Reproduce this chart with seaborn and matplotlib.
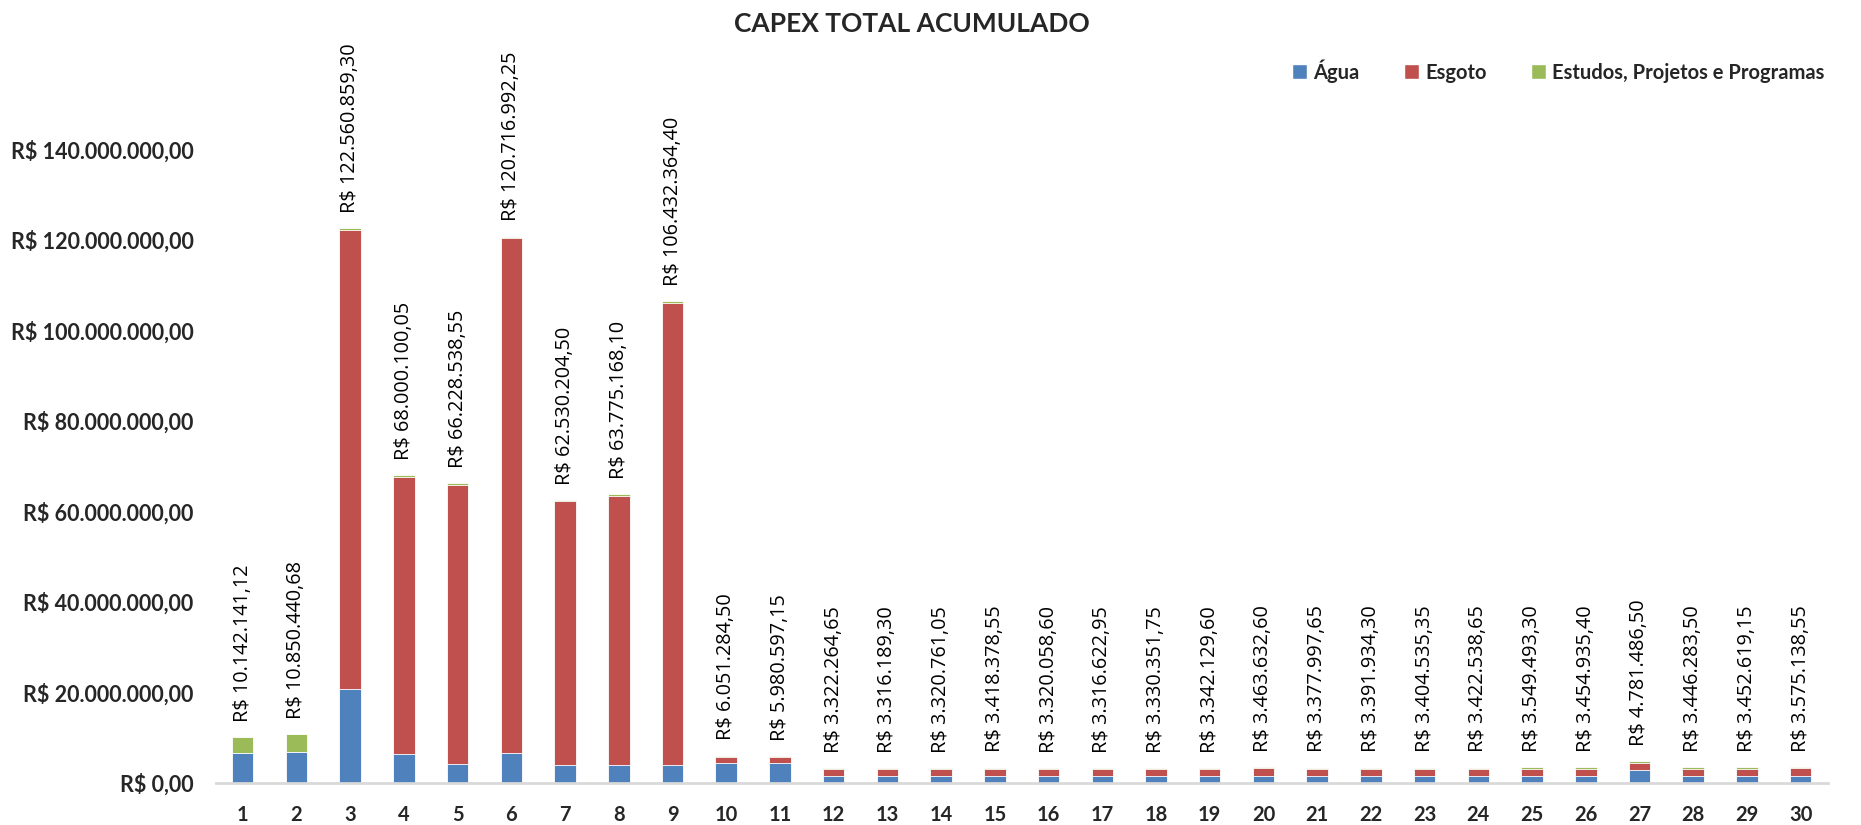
import numpy as np
import pandas as pd
import matplotlib
matplotlib.use("Agg")
import matplotlib.pyplot as plt
from matplotlib.patches import Patch
import seaborn as sns

# Ano do plano (1..30)
anos = [str(i) for i in range(1, 31)]

# CAPEX total acumulado por ano (R$)
total = [10142141.12, 10850440.68, 122560859.30, 68000100.05, 66228538.55,
         120716992.25, 62530204.50, 63775168.10, 106432364.40, 6051284.50,
         5980597.15, 3322264.65, 3316189.30, 3320761.05, 3418378.55,
         3320058.60, 3316622.95, 3330351.75, 3342129.60, 3463632.60,
         3377997.65, 3391934.30, 3404535.35, 3422538.65, 3549493.30,
         3454935.40, 4781486.50, 3446283.50, 3452619.15, 3575138.55]

# Parcela de Água (R$)
agua = [6600000, 6900000, 20700000, 6300000, 4300000, 6600000, 4000000,
        4000000, 4000000, 4500000, 4500000, 1600000, 1600000, 1600000,
        1600000, 1600000, 1600000, 1600000, 1600000, 1600000, 1600000,
        1600000, 1600000, 1600000, 1600000, 1600000, 2900000, 1600000,
        1600000, 1600000]

# Parcela de Estudos, Projetos e Programas (R$)
estudos = [3542141.12, 3950440.68, 300000, 300000, 300000, 300000, 300000,
           300000, 300000, 250000, 250000, 250000, 250000, 250000, 250000,
           250000, 250000, 250000, 250000, 250000, 250000, 250000, 250000,
           250000, 350000, 250000, 350000, 250000, 250000, 300000]

# Parcela de Esgoto = restante do total
esgoto = list(np.clip(np.array(total) - np.array(agua) - np.array(estudos), 0, None))

df = pd.DataFrame({"ano": anos, "agua": agua, "esgoto": esgoto, "estudos": estudos})
df["agua_esgoto"] = df["agua"] + df["esgoto"]
df["total"] = df["agua_esgoto"] + df["estudos"]

C_AGUA = "#4F81BD"
C_ESGOTO = "#C0504D"
C_ESTUDOS = "#9BBB59"


def brl(v):
    s = f"{v:,.2f}"
    s = s.replace(",", "X").replace(".", ",").replace("X", ".")
    return "R$ " + s


sns.set_theme(style="white")
plt.rcParams["font.family"] = ["Lato", "DejaVu Sans"]

fig = plt.figure(figsize=(18.61, 8.25), dpi=100)
ax = fig.add_axes([0.116, 0.0509, 0.866, 0.8776])

# Empilhamento: barras sobrepostas da soma acumulada
for col, cor in [("total", C_ESTUDOS), ("agua_esgoto", C_ESGOTO), ("agua", C_AGUA)]:
    sns.barplot(data=df, x="ano", y=col, order=anos, color=cor, width=0.4,
                saturation=1, edgecolor="white", linewidth=0.6, ax=ax, errorbar=None)

ax.set_xlim(-0.5, len(anos) - 0.5)
ax.set_ylim(0, 160_000_000)
yt = np.arange(0, 140_000_001, 20_000_000)
ax.set_yticks(yt)
ax.set_yticklabels([brl(v) for v in yt], fontsize=15.5, fontweight="bold")
ax.tick_params(axis="x", labelsize=14.5, pad=16)
for lbl in ax.get_xticklabels():
    lbl.set_fontweight("bold")
ax.tick_params(axis="both", length=0)
ax.tick_params(axis="y", pad=16)
ax.set_xlabel("")
ax.set_ylabel("")

for sp in ["top", "right", "left"]:
    ax.spines[sp].set_visible(False)
ax.spines["bottom"].set_color("#d9d9d9")
ax.spines["bottom"].set_linewidth(2)

# Rótulos de valor total
for i, v in enumerate(df["total"]):
    ax.annotate(brl(v), xy=(i, v), xytext=(0, 11), textcoords="offset points",
                rotation=90, ha="center", va="bottom", fontsize=14.3,
                family=["Open Sans", "DejaVu Sans"], color="#000000")

fig.suptitle("CAPEX TOTAL ACUMULADO", x=0.49, y=0.985, fontsize=19, fontweight="bold")

handles = [Patch(facecolor=C_AGUA, label="Água"),
           Patch(facecolor=C_ESGOTO, label="Esgoto"),
           Patch(facecolor=C_ESTUDOS, label="Estudos, Projetos e Programas")]
fig.legend(handles=handles, loc="center right", bbox_to_anchor=(0.99, 0.914),
           ncol=3, frameon=False, prop={"weight": "bold", "size": 14.5},
           handlelength=0.75, handleheight=0.75, handletextpad=0.3, columnspacing=2.2)

fig.savefig("out.png", dpi=100)
